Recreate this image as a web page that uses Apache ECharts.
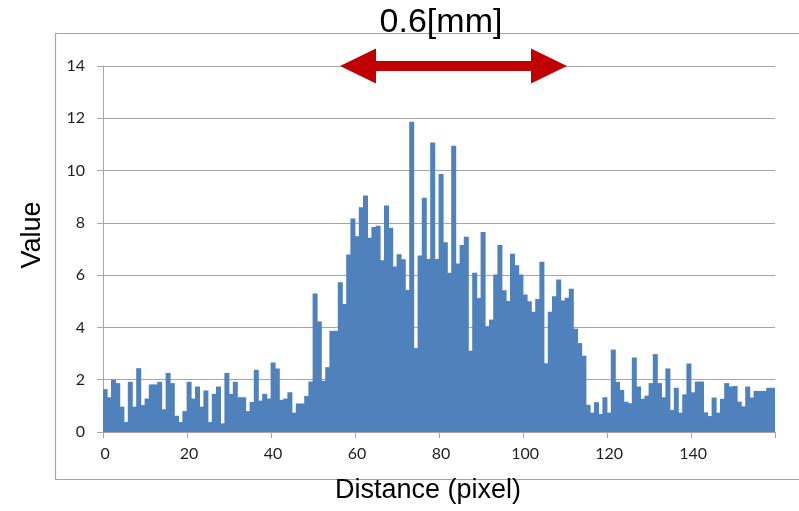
<!DOCTYPE html>
<html>
<head>
<meta charset="utf-8">
<script src="https://cdn.jsdelivr.net/npm/echarts@6/dist/echarts.min.js"></script>
<style>
  html,body{margin:0;padding:0;background:#fff;}
  #main{width:799px;height:511px;}
</style>
</head>
<body>
<div id="main"></div>
<script>
// 横轴：像素位置 0..159
var distance=[];
for(var i=0;i<160;i++){
  distance.push(i);
}
// 每个像素的值
var values=[
  1.64,1.33,2.0,1.87,0.97,0.38,1.92,0.97,2.44,1.03,
  1.28,1.82,1.82,1.92,0.87,2.26,1.87,0.62,0.38,0.8,
  1.92,1.28,1.74,0.97,1.59,0.38,1.46,1.74,0.33,2.26,
  1.46,1.92,1.33,1.33,0.8,1.15,2.38,1.2,1.46,1.28,
  2.66,2.43,1.23,1.28,1.52,0.74,1.09,1.09,1.38,1.93,
  5.3,4.23,1.96,2.48,3.87,3.87,5.73,4.9,6.79,8.17,
  7.49,8.6,9.05,7.43,7.84,7.89,6.57,8.66,7.81,6.33,
  6.8,6.61,5.43,11.87,3.21,6.75,8.96,6.62,11.07,6.62,
  9.87,7.26,6.09,10.95,6.45,7.15,7.47,3.11,6.09,5.13,
  7.65,4.05,4.3,6.02,7.15,5.42,5.01,6.82,6.38,6.02,
  5.26,5.0,4.6,5.09,6.51,2.63,4.6,5.19,5.83,5.03,
  5.14,5.48,3.95,3.4,2.92,1.04,0.74,1.14,0.69,1.33,
  0.74,3.15,1.92,1.61,1.16,1.1,2.85,1.74,1.27,1.39,
  1.87,2.98,1.87,1.33,2.43,0.84,1.69,0.74,1.44,2.62,
  1.52,1.93,1.93,0.75,0.61,1.32,0.74,1.27,1.87,1.74,
  1.76,1.16,0.98,1.74,1.32,1.57,1.57,1.57,1.69,1.69
];
// 纵轴刻度
var yMin=0, yMax=14, yStep=2;
// 标注文字
var xTitle="Distance (pixel)";
var yTitle="Value";
var spanLabel="0.6[mm]";

var gray="#a6a6a6";
var labelFont={color:"#1f1f1f",fontFamily:"Lato",fontSize:16};

var chart=echarts.init(document.getElementById("main"));
chart.setOption({
  animation:false,
  grid:{left:103,top:66,right:24,bottom:79},
  xAxis:{
    type:"category",
    data:distance,
    boundaryGap:true,
    axisLine:{lineStyle:{color:gray,width:1}},
    axisTick:{show:true,interval:19,length:6,lineStyle:{color:gray}},
    axisLabel:Object.assign({interval:19,margin:14},labelFont),
    splitLine:{show:false}
  },
  yAxis:{
    type:"value",
    min:yMin,
    max:yMax,
    interval:yStep,
    axisLine:{show:true,lineStyle:{color:gray,width:1}},
    axisTick:{show:true,length:6,lineStyle:{color:gray}},
    axisLabel:Object.assign({margin:18},labelFont),
    splitLine:{show:true,lineStyle:{color:gray,width:1}}
  },
  series:[{
    type:"bar",
    data:values,
    // 柱子略宽于间距，避免柱间白缝
    barWidth:5,
    barCategoryGap:"0%",
    itemStyle:{color:"#4f81bd"},
    z:3
  }],
  graphic:[
    // 图表外框
    {type:"rect",z:0,silent:true,shape:{x:55.5,y:33.5,width:760,height:446},
     style:{fill:null,stroke:gray,lineWidth:1.2}},
    // 双向红色箭头
    {type:"polygon",z:10,silent:true,
     shape:{points:[[340,66],[376,48.5],[376,61],[531,61],[531,48.5],[567,66],[531,83.5],[531,71],[376,71],[376,83.5]]},
     style:{fill:"#c00000"}},
    {type:"text",z:11,silent:true,x:441,y:23,
     style:{text:spanLabel,font:"34px 'Liberation Sans'",fill:"#000",textAlign:"center",textVerticalAlign:"middle"}},
    {type:"text",z:11,silent:true,x:428,y:491,
     style:{text:xTitle,font:"27px 'Liberation Sans'",fill:"#000",textAlign:"center",textVerticalAlign:"middle"}},
    {type:"text",z:11,silent:true,x:33,y:235,rotation:Math.PI/2,
     style:{text:yTitle,font:"27px 'Liberation Sans'",fill:"#000",textAlign:"center",textVerticalAlign:"middle"}}
  ]
});
</script>
</body>
</html>
